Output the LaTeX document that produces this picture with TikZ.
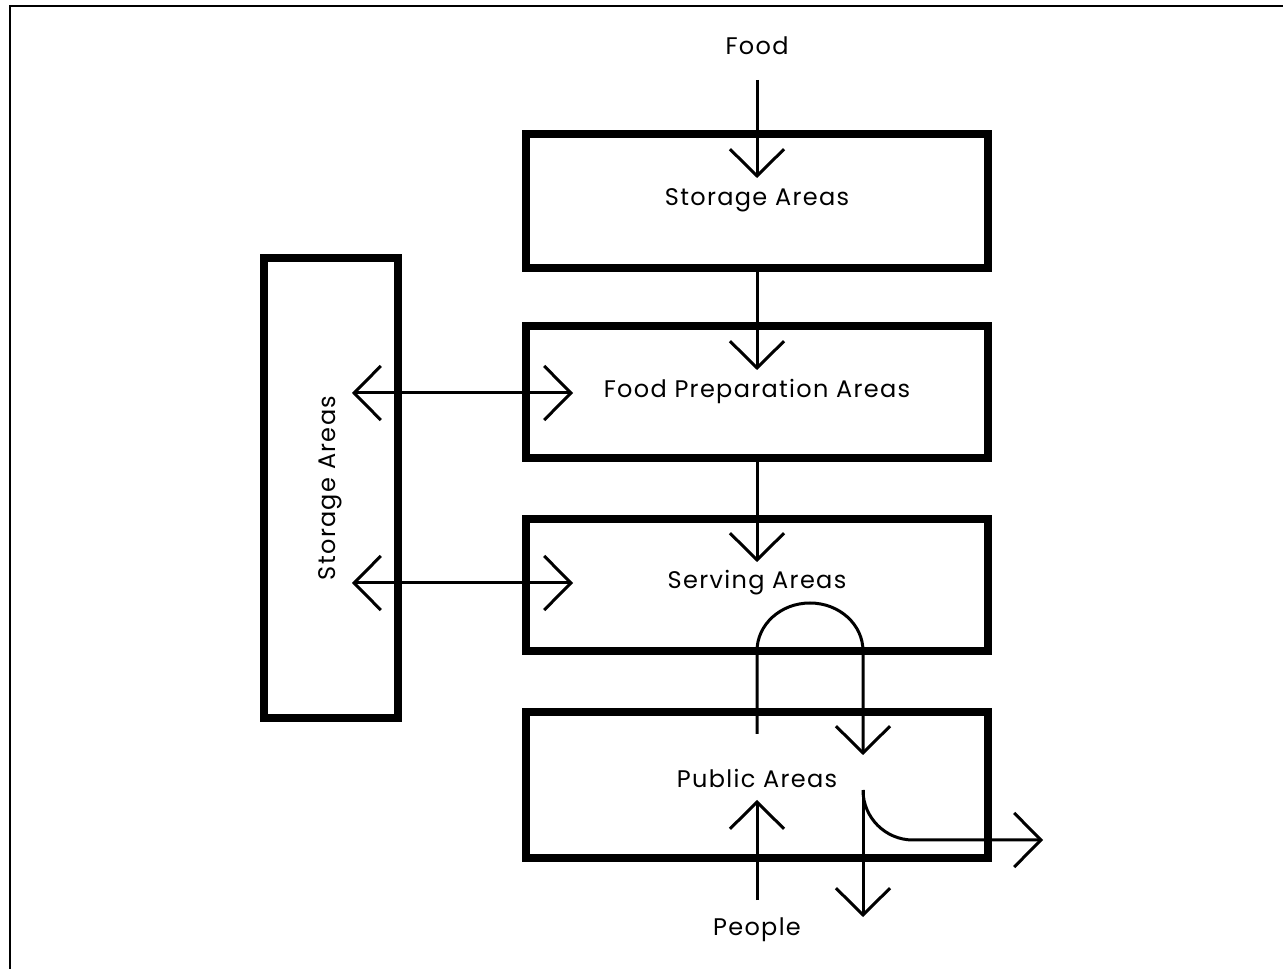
\documentclass[tikz,border=0pt]{standalone}
\usepackage{fontspec}
\setmainfont[LetterSpace=5.5]{Poppins}
\usetikzlibrary{arrows.meta}
\tikzset{
  box/.style={draw, line width=6pt, outer sep=0pt, inner sep=0pt, minimum width=346.5pt},
  lbl/.style={font=\fontsize{18}{21}\selectfont, inner sep=0pt},
  conn/.style={line width=2.25pt},
  arr/.style={conn, -{Straight Barb[length=20pt, width=40.5pt]}},
  darr/.style={conn, {Straight Barb[length=20pt, width=40.5pt]}-{Straight Barb[length=20pt, width=40.5pt]}},
  frame/.style={line width=1.5pt}
}
\begin{document}
\begin{tikzpicture}[x=0.75pt, y=-0.75pt]
\useasboundingbox (0,0) rectangle (1283,969);
\draw[frame] (10,975) -- (10,6) -- (1290,6);
% boxes
\node[box, minimum height=100.5pt] (st) at (757,201) {};
\node[box, minimum height=99pt] (prep) at (757,392) {};
\node[box, minimum height=99pt] (serv) at (757,585) {};
\node[box, minimum height=109.5pt] (pub) at (757,785) {};
\node[box, minimum width=100.5pt, minimum height=345pt] (side) at (331,488) {};
% labels
\node[lbl] (food) at (757,46) {Food};
\node[lbl] (stl) at (757,200) {Storage Areas};
\node[lbl] (prepl) at (757,391) {Food Preparation Areas};
\node[lbl] (servl) at (757,583) {Serving Areas};
\node[lbl] (publ) at (757,778) {Public Areas};
\node[lbl] (people) at (757,930) {People};
\node[lbl, rotate=90] (sidel) at (330,488) {Storage Areas};
% coordinates
\coordinate (f0) at (757,80);
\coordinate (f1) at (757,178);
\coordinate (a1) at (757,370);
\coordinate (a2) at (757,562);
\coordinate (h1l) at (352,393);
\coordinate (h1r) at (573,393);
\coordinate (h2l) at (352,583);
\coordinate (h2r) at (573,583);
\coordinate (l0) at (757,734);
\coordinate (l1) at (757,651);
\coordinate (r1) at (863,755);
\coordinate (b0) at (863,790);
\coordinate (b1) at (863,917);
\coordinate (e1) at (1043,840);
\coordinate (p0) at (757,900);
\coordinate (p1) at (757,800);
% connectors
\draw[arr] (f0) -- (f1);
\draw[arr] (st.south) -- (a1);
\draw[arr] (prep.south) -- (a2);
\draw[darr] (h1l) -- (h1r);
\draw[darr] (h2l) -- (h2r);
\draw[arr] (l0) -- (l1) arc[start angle=180, end angle=0, x radius=39.75pt, y radius=36pt] -- (r1);
\draw[arr] (b0) arc[start angle=180, end angle=270, radius=37.5pt] -- (e1);
\draw[arr] (b0) -- (b1);
\draw[arr] (p0) -- (p1);
\end{tikzpicture}
\end{document}
